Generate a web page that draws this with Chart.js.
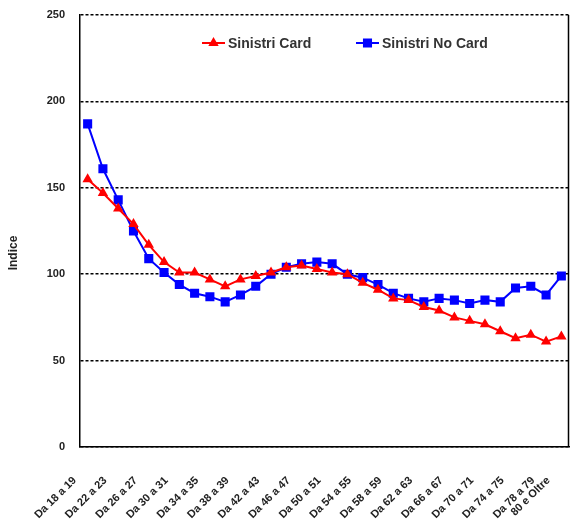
<!DOCTYPE html>
<html>
<head>
<meta charset="utf-8">
<script src="https://cdn.jsdelivr.net/npm/chart.js@4/dist/chart.umd.min.js"></script>
<style>
  html, body { margin: 0; padding: 0; background: #fff; }
  #wrap { width: 570px; height: 521px; }
</style>
</head>
<body>
<div id="wrap"><canvas id="myChart" width="570" height="521"></canvas></div>
<script>
// fasce d'età
const ageGroups = [
    "Da 18 a 19", "Da 20 a 21", "Da 22 a 23", "Da 24 a 25", "Da 26 a 27",
    "Da 28 a 29", "Da 30 a 31", "Da 32 a 33", "Da 34 a 35", "Da 36 a 37",
    "Da 38 a 39", "Da 40 a 41", "Da 42 a 43", "Da 44 a 45", "Da 46 a 47",
    "Da 48 a 49", "Da 50 a 51", "Da 52 a 53", "Da 54 a 55", "Da 56 a 57",
    "Da 58 a 59", "Da 60 a 61", "Da 62 a 63", "Da 64 a 65", "Da 66 a 67",
    "Da 68 a 69", "Da 70 a 71", "Da 72 a 73", "Da 74 a 75", "Da 76 a 77",
    "Da 78 a 79", "80 e Oltre",
];

const sinistriCard = [
    155, 147, 138, 129, 117, 107, 101, 101, 97, 93, 97, 99, 101, 104, 105, 103,
    101, 100, 95, 91, 86, 85, 81, 79, 75, 73, 71, 67, 63, 65, 61, 64,
];

const sinistriNoCard = [
    187, 161, 143, 125, 109, 101, 94, 89, 87, 84, 88, 93, 100, 104, 106, 107,
    106, 100, 98, 94, 89, 86, 84, 86, 85, 83, 85, 84, 92, 93, 88, 99,
];

const yTicks = [0, 50, 100, 150, 200, 250];

Chart.defaults.font.family = "Arial, 'Liberation Sans', sans-serif";
Chart.defaults.color = "#222";

// allarga l'area del grafico fino al bordo destro
const stretchRight = {
    id: "stretchRight",
    afterLayout(chart) {
        const right = chart.width - 1;
        const xScale = chart.scales.x;
        chart.chartArea.right = right;
        chart.chartArea.width = right - chart.chartArea.left;
        xScale.right = right;
        xScale.width = right - xScale.left;
        xScale.configure();
    },
};

// legenda dentro l'area del grafico + bordo destro + titolo asse
const extras = {
    id: "extras",
    afterDraw(chart) {
        const ctx = chart.ctx;
        const area = chart.chartArea;
        ctx.save();

        // bordo destro
        ctx.strokeStyle = "#000";
        ctx.lineWidth = 1.5;
        ctx.beginPath();
        ctx.moveTo(area.right - 0.5, area.top);
        ctx.lineTo(area.right - 0.5, area.bottom);
        ctx.stroke();

        // legenda
        const items = [
            { ds: chart.data.datasets[0], x: 202 },
            { ds: chart.data.datasets[1], x: 356 },
        ];
        const ly = 43;
        ctx.font = "bold 14px Arial, 'Liberation Sans', sans-serif";
        ctx.textBaseline = "middle";
        items.forEach((it) => {
            ctx.strokeStyle = it.ds.borderColor;
            ctx.lineWidth = 2;
            ctx.beginPath();
            ctx.moveTo(it.x, ly);
            ctx.lineTo(it.x + 23, ly);
            ctx.stroke();
            ctx.fillStyle = it.ds.borderColor;
            Chart.helpers.drawPoint(ctx, {
                pointStyle: it.ds.pointStyle,
                radius: it.ds.pointRadius,
                rotation: 0,
                borderWidth: 1,
            }, it.x + 11.5, ly);
            ctx.fillStyle = "#333";
            ctx.fillText(it.ds.label, it.x + 26, ly + 1);
        });

        // titolo asse Y
        ctx.font = "bold 12px Arial, 'Liberation Sans', sans-serif";
        ctx.translate(14, 253);
        ctx.rotate(-Math.PI / 2);
        ctx.textAlign = "center";
        ctx.fillStyle = "#222";
        ctx.fillText("Indice", 0, 0);
        ctx.restore();
    },
};

const ctx = document.getElementById("myChart").getContext("2d");

const myChart = new Chart(ctx, {
    type: "line",
    data: {
        labels: ageGroups,
        datasets: [
            {
                label: "Sinistri Card",
                data: sinistriCard,
                borderColor: "#ff0000",
                backgroundColor: "#ff0000",
                pointStyle: "triangle",
                pointRadius: 4,
                borderWidth: 2,
                tension: 0,
            },
            {
                label: "Sinistri No Card",
                data: sinistriNoCard,
                borderColor: "#0000ff",
                backgroundColor: "#0000ff",
                pointStyle: "rect",
                pointRadius: 5,
                borderWidth: 2,
                tension: 0,
            },
        ],
    },
    options: {
        responsive: false,
        animation: false,
        layout: { padding: { top: 15, right: 0, left: 0, bottom: 0 } },
        plugins: {
            legend: { display: false },
            tooltip: { enabled: false },
        },
        scales: {
            x: {
                offset: true,
                grid: { display: false, drawTicks: false, offset: true },
                border: { display: true, color: "#000", width: 1.5 },
                afterFit: (scale) => {
                    scale.height = 74;
                    scale.paddingLeft = 0;
                    scale.paddingRight = 0;
                },
                ticks: {
                    autoSkip: false,
                    maxRotation: 45,
                    minRotation: 45,
                    padding: 27,
                    labelOffset: -13,
                    font: { size: 11, weight: "bold" },
                    callback: function (val, index) {
                        const last = ageGroups.length - 1;
                        return index % 2 === 0 || index === last ? ageGroups[index] : "";
                    },
                },
            },
            y: {
                min: yTicks[0],
                max: yTicks[yTicks.length - 1],
                afterFit: (scale) => {
                    scale.width = 80;
                    scale.paddingTop = 0;
                    scale.paddingBottom = 0;
                },
                afterBuildTicks: (scale) => {
                    scale.ticks = yTicks.map((v) => ({ value: v }));
                },
                grid: { color: "#000", lineWidth: 1.5, drawTicks: false },
                border: { display: true, color: "#000", width: 1.5, dash: [3, 2] },
                ticks: {
                    padding: 15,
                    font: { size: 11, weight: "bold" },
                },
            },
        },
    },
    plugins: [stretchRight, extras],
});
</script>
</body>
</html>
